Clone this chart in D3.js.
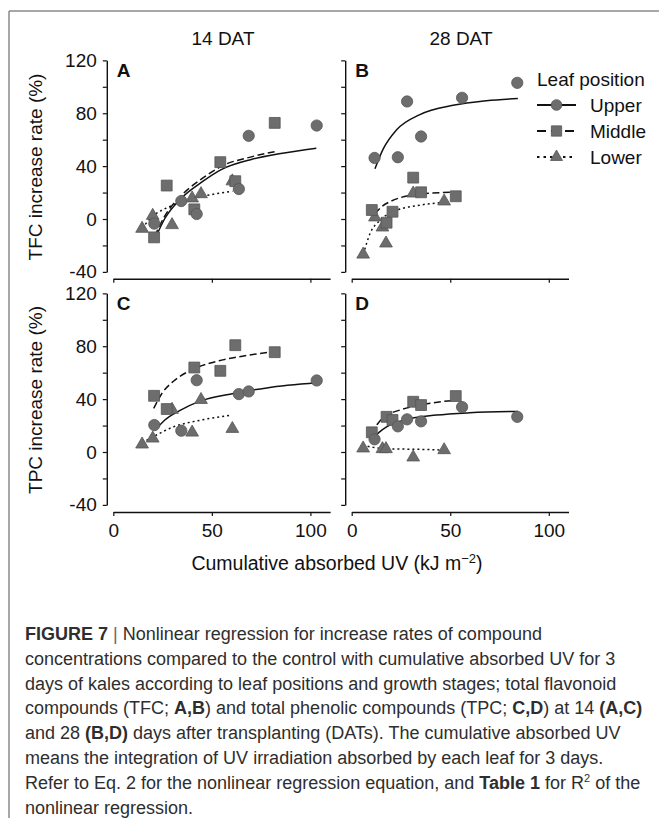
<!DOCTYPE html>
<html>
<head>
<meta charset="utf-8">
<script src="https://cdn.jsdelivr.net/npm/d3@7"></script>
<style>
  body { margin: 0; background: #fff; }
  svg { display: block; font-family: "Liberation Sans", Arial, sans-serif; }
</style>
</head>
<body>
<svg id="chart"></svg>
<script>
// ---- data ----
const stageTitles = ["14 DAT", "28 DAT"];
const yTitles = ["TFC increase rate (%)", "TPC increase rate (%)"];
const panelLetters = ["A", "B", "C", "D"];
const leafPositions = ["Upper", "Middle", "Lower"];
const yTicks = [-40, 0, 40, 80, 120];
const yMinorTicks = [-20, 20, 60, 100];
const xTicks = [0, 50, 100];
const xTitle = "Cumulative absorbed UV (kJ m";

// cumulative absorbed UV (x) per leaf position
const uv14Upper = [20.8, 34.5, 42.3, 63.7, 68.7, 103.2];
const uv14Middle = [20.7, 27.1, 41.1, 54.3, 61.9, 81.9];
const uv14Lower = [14.6, 20.0, 29.8, 40.0, 44.5, 60.4];
const uv28Upper = [11.6, 23.4, 28.1, 35.2, 56.0, 84.0];
const uv28Middle = [10.2, 17.7, 20.7, 31.2, 35.2, 52.8];
const uv28Lower = [5.8, 11.8, 15.6, 17.4, 31.2, 46.9];

// increase rates (%); null = point hidden in the figure
const tfc14Upper = [-3.5, 13.6, 3.8, 22.7, 62.9, 70.7];
const tfc14Middle = [-13.9, 25.3, 7.3, 43.0, 28.6, 72.7];
const tfc14Lower = [-7.3, 2.5, -4.5, 15.7, 18.9, 28.6];
const tfc28Upper = [46.2, 46.7, 88.9, 62.4, 91.7, 103.0];
const tfc28Middle = [6.8, -2.8, 5.5, 31.3, 20.2, 17.2];
const tfc28Lower = [-26.8, 1.3, -6.3, -18.4, 19.4, 13.4];
const tpc14Upper = [20.4, 16.1, 54.3, 43.8, 45.8, 54.1];
const tpc14Middle = [42.5, 32.5, 63.9, 61.4, 80.8, 75.5];
const tpc14Lower = [5.8, 10.3, 32.0, 14.8, 39.5, 17.6];
const tpc28Upper = [9.6, 19.4, 24.7, 23.2, 34.0, 26.6];
const tpc28Middle = [14.9, 26.6, 24.2, 38.0, 35.5, 42.3];
const tpc28Lower = [2.8, null, 2.3, 2.3, -4.0, 1.5];

// regression curves, points [uv, rate]
const fitTfc14Upper = [[21.5, -14], [26, 0], [34, 15], [45, 28], [55, 37.5], [70, 45], [85, 49.5], [103, 53.5]];
const fitTfc14Middle = [[21, -13], [26, 2], [34, 17], [45, 30.5], [55, 40], [70, 47], [82, 51]];
const fitTfc14Lower = [[14.6, -7], [20, 2], [28, 9], [35, 13], [45, 17], [60.4, 21]];
const fitTfc28Upper = [[11.8, 38], [16, 53], [22.8, 67.5], [34.6, 79], [51.4, 86], [68.3, 89.5], [84.3, 91.2]];
const fitTfc28Middle = [[11.8, 4], [15, 9], [20, 13.5], [25, 16.3], [31, 18.3], [40, 19.5], [53, 20.5]];
const fitTfc28Lower = [[5.9, -26.8], [9.3, -11], [14.3, -1], [22.8, 6.5], [34.6, 10.5], [46.9, 12.6]];
const fitTpc14Upper = [[21.3, 16.5], [26, 24], [33.9, 31.5], [44, 38.5], [60.9, 44.3], [77.9, 48.5], [103.2, 52.3]];
const fitTpc14Middle = [[20.5, 33], [25, 45], [30.5, 53.5], [41.1, 63], [54.2, 69.2], [67.7, 73], [81.7, 76]];
const fitTpc14Lower = [[14.6, 7], [20.3, 11.6], [30.5, 19], [44, 24], [59.6, 27.8]];
const fitTpc28Upper = [[10.9, 10.3], [14, 15], [17.7, 19], [26.1, 24], [43, 27.9], [59.9, 29.7], [84.3, 30.7]];
const fitTpc28Middle = [[10.1, 13.6], [13, 21], [16, 26], [24.4, 31.7], [34.6, 35.5], [52.8, 39.2]];
const fitTpc28Lower = [[5.6, 5.3], [10.9, 3.5], [17.7, 2.5], [34.6, 2], [46.9, 1.5]];

// caption: [text, bold, superscript]
const captionLines = [
  [["FIGURE 7", true], ["  |  ", false], ["Nonlinear regression for increase rates of compound", false]],
  [["concentrations compared to the control with cumulative absorbed UV for 3", false]],
  [["days of kales according to leaf positions and growth stages; total flavonoid", false]],
  [["compounds (TFC; ", false], ["A,B", true], [") and total phenolic compounds (TPC; ", false], ["C,D", true], [") at 14 ", false], ["(A,C)", true]],
  [["and 28 ", false], ["(B,D)", true], [" days after transplanting (DATs). The cumulative absorbed UV", false]],
  [["means the integration of UV irradiation absorbed by each leaf for 3 days.", false]],
  [["Refer to Eq. 2 for the nonlinear regression equation, and ", false], ["Table 1", true], [" for R", false], ["2", false, true], [" of the", false]],
  [["nonlinear regression.", false]]
];

// ---- layout ----
const width = 659, height = 818;
const svg = d3.select("#chart").attr("width", width).attr("height", height);
const ink = "#111";
const labelSize = 19;

// figure frame (top and left rules)
svg.append("line").attr("x1", 9).attr("x2", width).attr("y1", 11).attr("y2", 11)
  .attr("stroke", "#8a8a8a").attr("stroke-width", 1.5);
svg.append("line").attr("x1", 9).attr("x2", 9).attr("y1", 11).attr("y2", height)
  .attr("stroke", "#8a8a8a").attr("stroke-width", 1.5);

const markerFill = "#6d6d6d";
const markerStroke = "#555";
const symbolTypes = [d3.symbolCircle, d3.symbolSquare, d3.symbolTriangle];
const symbolSizes = [100, 118, 70];
const dashes = [null, "7,3.5", "2,3"];

const panels = [
  { letter: panelLetters[0], x0: 113.3, y0: 219, xAxisY: 278.7, labels: true, xLabels: false,
    series: [[uv14Upper, tfc14Upper, fitTfc14Upper], [uv14Middle, tfc14Middle, fitTfc14Middle], [uv14Lower, tfc14Lower, fitTfc14Lower]] },
  { letter: panelLetters[1], x0: 351.7, y0: 219, xAxisY: 278.7, labels: false, xLabels: false,
    series: [[uv28Upper, tfc28Upper, fitTfc28Upper], [uv28Middle, tfc28Middle, fitTfc28Middle], [uv28Lower, tfc28Lower, fitTfc28Lower]] },
  { letter: panelLetters[2], x0: 113.3, y0: 452, xAxisY: 512, labels: true, xLabels: true,
    series: [[uv14Upper, tpc14Upper, fitTpc14Upper], [uv14Middle, tpc14Middle, fitTpc14Middle], [uv14Lower, tpc14Lower, fitTpc14Lower]] },
  { letter: panelLetters[3], x0: 351.7, y0: 452, xAxisY: 512, labels: false, xLabels: true,
    series: [[uv28Upper, tpc28Upper, fitTpc28Upper], [uv28Middle, tpc28Middle, fitTpc28Middle], [uv28Lower, tpc28Lower, fitTpc28Lower]] }
];

const pxPerX = 1.971, pxPerY = 1.322;

panels.forEach(function(p) {
  const x = d3.scaleLinear().domain([0, 110]).range([p.x0, p.x0 + 110 * pxPerX]);
  const y = d3.scaleLinear().domain([-40, 120]).range([p.y0 + 40 * pxPerY, p.y0 - 120 * pxPerY]);
  const g = svg.append("g");
  const yAxisX = p.x0 - 6.5;

  // y axis, major then minor ticks
  const yAxis = d3.axisLeft(y).tickValues(yTicks).tickSize(4).tickSizeOuter(0).tickPadding(6)
    .tickFormat(d => p.labels ? String(d) : "");
  g.append("g").attr("transform", `translate(${yAxisX},0)`).call(yAxis);
  g.append("g").attr("transform", `translate(${yAxisX},0)`)
    .call(d3.axisLeft(y).tickValues(yMinorTicks).tickSize(4).tickSizeOuter(0).tickFormat(""))
    .select(".domain").remove();

  // x axis
  const xAxis = d3.axisBottom(x).tickValues(xTicks).tickSize(4).tickSizeOuter(0).tickPadding(8)
    .tickFormat(d => p.xLabels ? String(d) : "");
  g.append("g").attr("transform", `translate(0,${p.xAxisY})`).call(xAxis);

  g.selectAll(".domain").attr("stroke", ink).attr("stroke-width", 1.4);
  g.selectAll(".tick line").attr("stroke", ink).attr("stroke-width", 1.2);
  g.selectAll(".tick text").attr("font-size", labelSize).attr("fill", ink)
    .attr("font-family", "'Liberation Sans', Arial, sans-serif");

  // panel letter
  g.append("text").attr("x", p.x0 + 3.5).attr("y", y(120) + 17)
    .attr("font-size", 19).attr("font-weight", "bold").attr("fill", ink).text(p.letter);

  // fitted curves
  const line = d3.line().x(d => x(d[0])).y(d => y(d[1])).curve(d3.curveMonotoneX);
  p.series.forEach(function(s, i) {
    g.append("path").datum(s[2]).attr("d", line)
      .attr("fill", "none").attr("stroke", ink).attr("stroke-width", 1.5)
      .attr("stroke-dasharray", dashes[i]);
  });

  // points: lower first, then middle, then upper on top
  [2, 1, 0].forEach(function(i) {
    const s = p.series[i];
    const pts = s[0].map((u, k) => [u, s[1][k]]).filter(d => d[1] !== null);
    g.selectAll(null).data(pts).enter().append("path")
      .attr("d", d3.symbol().type(symbolTypes[i]).size(symbolSizes[i]))
      .attr("transform", d => `translate(${x(d[0])},${y(d[1])})`)
      .attr("fill", markerFill).attr("stroke", markerStroke).attr("stroke-width", 0.8);
  });
});

// column titles
svg.selectAll(null).data(stageTitles).enter().append("text")
  .attr("x", (d, i) => [223, 461][i]).attr("y", 45)
  .attr("text-anchor", "middle").attr("font-size", labelSize).attr("fill", ink).text(d => d);

// y titles
svg.selectAll(null).data(yTitles).enter().append("text")
  .attr("transform", (d, i) => `translate(42,${[167, 400][i]}) rotate(-90)`)
  .attr("text-anchor", "middle").attr("font-size", labelSize).attr("fill", ink).text(d => d);

// x title with superscript
const xt = svg.append("text").attr("x", 337).attr("y", 570)
  .attr("text-anchor", "middle").attr("font-size", 19.5).attr("fill", ink);
xt.append("tspan").text(xTitle);
xt.append("tspan").attr("dy", -7).attr("font-size", 13).text("\u22122");
xt.append("tspan").attr("dy", 7).text(")");

// legend
const legend = svg.append("g");
legend.append("text").attr("x", 537).attr("y", 86).attr("font-size", labelSize).attr("fill", ink).text("Leaf position");
const legendRows = [105, 131, 157];
const legendDashes = [null, "9,5", "2.5,4"];
leafPositions.forEach(function(name, i) {
  const ry = legendRows[i];
  legend.append("line").attr("x1", 537).attr("x2", 576).attr("y1", ry).attr("y2", ry)
    .attr("stroke", ink).attr("stroke-width", 2.2).attr("stroke-dasharray", legendDashes[i]);
  legend.append("path").attr("d", d3.symbol().type(symbolTypes[i]).size(symbolSizes[i] * 0.9))
    .attr("transform", `translate(556.5,${ry})`)
    .attr("fill", markerFill).attr("stroke", markerStroke).attr("stroke-width", 0.8);
  legend.append("text").attr("x", 590).attr("y", ry + 7).attr("font-size", labelSize).attr("fill", ink).text(name);
});

// caption
const cap = svg.append("g").attr("font-size", 18).attr("fill", "#2e2e2e");
captionLines.forEach(function(segs, i) {
  const t = cap.append("text").attr("x", 25).attr("y", 640 + i * 24.8);
  let raised = false;
  segs.forEach(function(s) {
    const ts = t.append("tspan").text(s[0]).attr("font-weight", s[1] ? "bold" : null);
    if (s[0].trim() === "|") ts.attr("fill", "#666");
    if (s[2]) { ts.attr("font-size", 11).attr("dy", -7); raised = true; }
    else if (raised) { ts.attr("dy", 7); raised = false; }
  });
});
</script>
</body>
</html>
